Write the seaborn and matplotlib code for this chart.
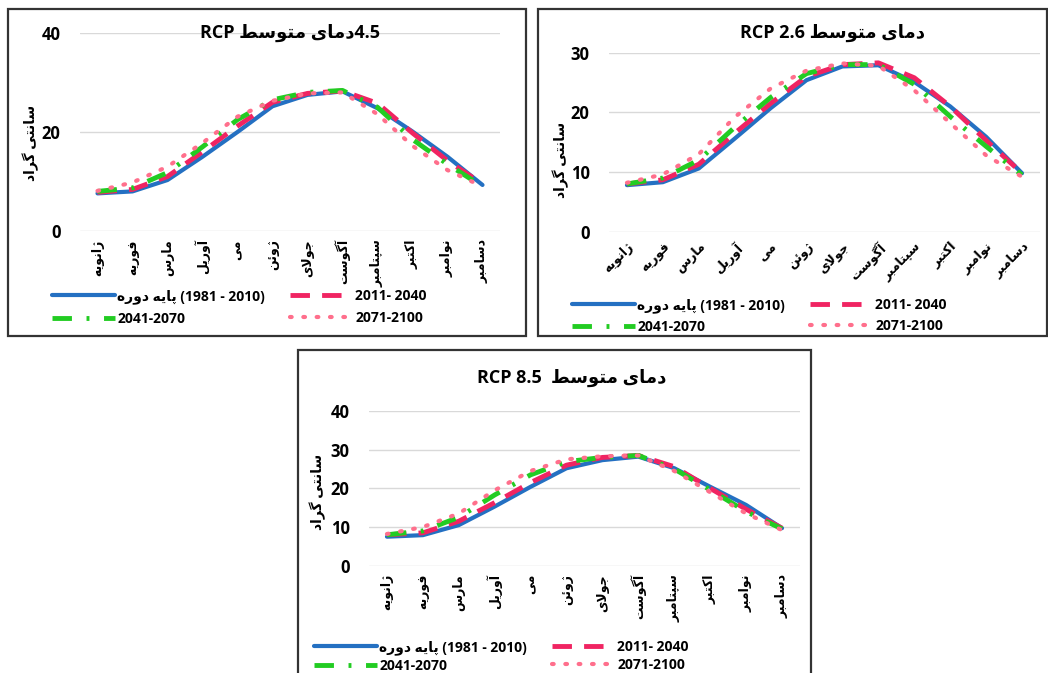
import numpy as np
import pandas as pd
import matplotlib
matplotlib.use('Agg')
import matplotlib.pyplot as plt
import seaborn as sns
from matplotlib.patches import Rectangle

sns.set_theme(style='white')
plt.rcParams['font.family'] = ['Open Sans', 'DejaVu Sans']
plt.rcParams['font.weight'] = 'bold'
plt.rcParams['text.color'] = 'black'
plt.rcParams['xtick.color'] = 'black'
plt.rcParams['ytick.color'] = 'black'

# 페르시아 문자 모양 변환 (matplotlib 은 아랍 문자 연결/RTL 을 지원하지 않음)
FORMS = {
    'ا': ('\uFE8D', '\uFE8E', None, None),
    'آ': ('\uFE81', '\uFE82', None, None),
    'ب': ('\uFE8F', '\uFE90', '\uFE91', '\uFE92'),
    'پ': ('\uFB56', '\uFB57', '\uFB58', '\uFB59'),
    'ت': ('\uFE95', '\uFE96', '\uFE97', '\uFE98'),
    'ج': ('\uFE9D', '\uFE9E', '\uFE9F', '\uFEA0'),
    'د': ('\uFEA9', '\uFEAA', None, None),
    'ر': ('\uFEAD', '\uFEAE', None, None),
    'ژ': ('\uFB8A', '\uFB8B', None, None),
    'س': ('\uFEB1', '\uFEB2', '\uFEB3', '\uFEB4'),
    'ط': ('\uFEC1', '\uFEC2', '\uFEC3', '\uFEC4'),
    'ف': ('\uFED1', '\uFED2', '\uFED3', '\uFED4'),
    'ک': ('\uFB8E', '\uFB8F', '\uFB90', '\uFB91'),
    'گ': ('\uFB92', '\uFB93', '\uFB94', '\uFB95'),
    'ل': ('\uFEDD', '\uFEDE', '\uFEDF', '\uFEE0'),
    'م': ('\uFEE1', '\uFEE2', '\uFEE3', '\uFEE4'),
    'ن': ('\uFEE5', '\uFEE6', '\uFEE7', '\uFEE8'),
    'و': ('\uFEED', '\uFEEE', None, None),
    'ه': ('\uFEE9', '\uFEEA', '\uFEEB', '\uFEEC'),
    'ی': ('\uFBFC', '\uFBFD', '\uFBFE', '\uFBFF'),
    'ئ': ('\uFE89', '\uFE8A', '\uFE8B', '\uFE8C'),
}
LAM_ALEF = {'ا': ('\uFEFB', '\uFEFC'), 'آ': ('\uFEF5', '\uFEF6')}


def dual(c):
    return c in FORMS and FORMS[c][2] is not None


def fa(text):
    res = []
    n = len(text)
    i = 0
    while i < n:
        c = text[i]
        if c not in FORMS:
            res.append(c)
            i += 1
            continue
        joins_prev = i > 0 and dual(text[i - 1])
        if c == 'ل' and i + 1 < n and text[i + 1] in LAM_ALEF:
            lig = LAM_ALEF[text[i + 1]]
            res.append(lig[1] if joins_prev else lig[0])
            i += 2
            continue
        joins_next = dual(c) and i + 1 < n and text[i + 1] in FORMS
        iso, fin, ini, med = FORMS[c]
        if joins_prev and joins_next:
            res.append(med)
        elif joins_prev:
            res.append(fin)
        elif joins_next:
            res.append(ini)
        else:
            res.append(iso)
        i += 1
    return ''.join(res[::-1])


# --- 데이터 ---
months = ['ژانویه', 'فوریه', 'مارس', 'آوریل', 'می', 'ژوئن',
          'جولای', 'آگوست', 'سپتامبر', 'اکتبر', 'نوامبر', 'دسامبر']
legend_labels = [fa('پایه دوره') + ' (1981 - 2010)', '2011- 2040', '2041-2070', '2071-2100']

rcp45_base = [7.6, 8.0, 10.3, 15.0, 20.0, 25.2, 27.5, 28.2, 24.8, 20.1, 15.0, 9.3]
rcp45_2040 = [7.8, 8.4, 11.0, 16.0, 21.2, 26.0, 27.8, 28.3, 25.8, 19.8, 14.2, 9.5]
rcp45_2070 = [8.0, 8.7, 11.8, 17.0, 22.5, 26.5, 28.0, 28.4, 25.0, 18.5, 13.5, 9.0]
rcp45_2100 = [8.1, 9.8, 13.0, 17.8, 23.1, 26.3, 27.8, 28.0, 23.6, 17.2, 12.3, 9.0]

rcp26_base = [7.8, 8.3, 10.6, 15.6, 20.7, 25.4, 27.7, 27.9, 25.1, 21.0, 15.9, 9.8]
rcp26_2040 = [8.0, 8.7, 11.3, 16.5, 21.5, 26.0, 28.0, 28.3, 25.8, 21.0, 15.3, 9.8]
rcp26_2070 = [8.0, 9.0, 12.0, 17.5, 22.5, 26.5, 28.0, 28.0, 24.7, 19.3, 14.3, 9.5]
rcp26_2100 = [8.2, 9.6, 13.0, 19.2, 24.0, 27.0, 28.2, 27.8, 23.7, 18.2, 12.8, 9.2]

rcp85_base = [7.5, 7.9, 10.5, 15.3, 20.4, 25.2, 27.3, 28.2, 25.2, 20.4, 15.7, 9.7]
rcp85_2040 = [8.0, 8.5, 11.5, 16.3, 21.5, 26.0, 28.0, 28.5, 25.6, 20.0, 14.6, 9.7]
rcp85_2070 = [8.0, 9.0, 12.5, 18.3, 23.5, 26.9, 28.0, 28.5, 25.0, 19.6, 14.0, 9.5]
rcp85_2100 = [8.2, 10.0, 13.5, 19.5, 24.5, 27.5, 28.3, 28.5, 24.5, 19.0, 13.5, 9.2]

# 선 스타일
styles = [
    dict(color='#2470C2', lw=3.0, dashes=None),
    dict(color='#F02462', lw=3.5, dashes=(4, 2.5)),
    dict(color='#22CC22', lw=3.5, dashes=(4, 3, 0.6, 3)),
    dict(color='#FF6F8C', lw=3.0, dashes=(0.4, 2.8)),
]

W, H = 1048, 673
fig = plt.figure(figsize=(W / 100, H / 100), dpi=100)
fig.patch.set_facecolor('white')


def px_axes(l, r, t, b):
    return fig.add_axes([l / W, 1 - b / H, (r - l) / W, (b - t) / H])


def frame(l, r, t, b):
    fig.patches.append(Rectangle((l / W, 1 - b / H), (r - l) / W, (b - t) / H,
                                 transform=fig.transFigure, fill=False,
                                 edgecolor='#333333', lw=1.6, zorder=0))


def panel(ax, data, yticks, ylim, rot, leg_xy, lspace):
    xlab = [fa(m) for m in months]
    handles = []
    for vals, st in zip(data, styles):
        df = pd.DataFrame({'month': xlab, 'temp': vals})
        sns.lineplot(data=df, x='month', y='temp', ax=ax, sort=False,
                     legend=False, color=st['color'], lw=st['lw'])
        line = ax.lines[-1]
        line.set_solid_capstyle('round')
        if st['dashes'] is not None:
            line.set_dashes(st['dashes'])
            line.set_dash_capstyle('round' if st['dashes'][0] < 1 else 'butt')
        handles.append(line)
    ax.set_xlim(-0.5, 11.5)
    ax.set_ylim(*ylim)
    ax.set_yticks(yticks)
    ax.grid(axis='y', color='#d9d9d9', lw=1)
    ax.set_axisbelow(True)
    for s in ax.spines.values():
        s.set_visible(False)
    ax.set_xlabel('')
    ax.set_ylabel('')
    ax.tick_params(axis='y', labelsize=12, pad=14, length=0)
    ax.tick_params(axis='x', labelsize=9, pad=6, length=0)
    for t in ax.get_xticklabels():
        if rot == 90:
            t.set_rotation(90)
            t.set_ha('center')
            t.set_va('top')
        else:
            t.set_rotation(45)
            t.set_ha('right')
            t.set_va('top')
            t.set_rotation_mode('anchor')
    ax.patch.set_alpha(0)
    order = [0, 2, 1, 3]
    ax.legend([handles[i] for i in order], [legend_labels[i] for i in order],
              loc='upper left', bbox_to_anchor=(leg_xy[0] / W, 1 - leg_xy[1] / H),
              bbox_transform=fig.transFigure, ncol=2, frameon=False,
              handlelength=4.5, fontsize=10, borderpad=0, borderaxespad=0,
              labelspacing=lspace, columnspacing=1.8, handletextpad=0.2)


title_fa = fa('دمای متوسط')
ylab_fa = fa('سانتی گراد')

# --- RCP 4.5 (좌상단) ---
frame(8, 526, 9, 336)
ax1 = px_axes(80, 500, 33, 231)
panel(ax1, [rcp45_base, rcp45_2040, rcp45_2070, rcp45_2100], [0, 20, 40], (0, 40), 90, (52, 289), 0.6)
fig.text(290 / W, 1 - 33 / H, 'RCP ' + title_fa + '4.5', ha='center', va='center',
         fontsize=13, fontweight='bold')
fig.text(31 / W, 1 - 143 / H, ylab_fa, rotation=90, ha='center', va='center',
         fontsize=10, fontweight='bold')

# --- RCP 2.6 (우상단) ---
frame(538, 1047, 9, 336)
ax2 = px_axes(609, 1040, 52.7, 231.7)
panel(ax2, [rcp26_base, rcp26_2040, rcp26_2070, rcp26_2100], [0, 10, 20, 30], (0, 30), 45, (572, 298), 0.5)
fig.text(832 / W, 1 - 33 / H, 'RCP 2.6 ' + title_fa, ha='center', va='center',
         fontsize=13, fontweight='bold')
fig.text(561 / W, 1 - 160 / H, ylab_fa, rotation=90, ha='center', va='center',
         fontsize=10, fontweight='bold')

# --- RCP 8.5 (하단) ---
frame(298, 811, 350, 690)
ax3 = px_axes(369, 800, 411, 565.7)
panel(ax3, [rcp85_base, rcp85_2040, rcp85_2070, rcp85_2100], [0, 10, 20, 30, 40], (0, 40), 90, (314, 640), 0.3)
fig.text(572 / W, 1 - 378 / H, 'RCP 8.5  ' + title_fa, ha='center', va='center',
         fontsize=13, fontweight='bold')
fig.text(318 / W, 1 - 492 / H, ylab_fa, rotation=90, ha='center', va='center',
         fontsize=10, fontweight='bold')

fig.savefig('out.png', dpi=100, facecolor='white')
